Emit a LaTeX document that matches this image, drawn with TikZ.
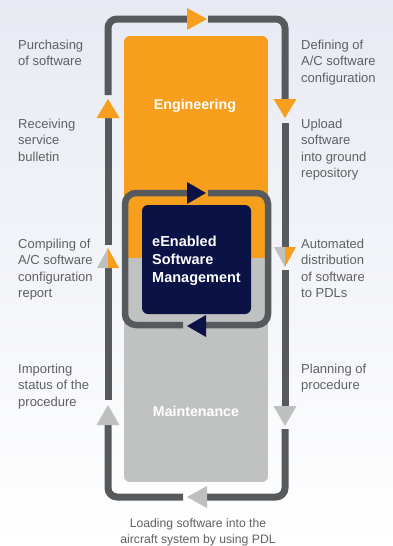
\documentclass[tikz,border=0pt]{standalone}
\usepackage{fontspec}
\setmainfont{Liberation Sans}
\definecolor{orng}{RGB}{247,158,29}
\definecolor{lgray}{RGB}{192,193,193}
\definecolor{agray}{RGB}{190,191,191}
\definecolor{dgray}{RGB}{86,90,92}
\definecolor{navy}{RGB}{10,18,70}
\definecolor{txt}{RGB}{95,96,98}
\definecolor{bgtop}{RGB}{232,234,243}
\begin{document}
\begin{tikzpicture}[x=1pt,y=-1pt,
  outerloop/.style={draw=dgray,line width=7pt,rounded corners=9pt},
  innerloop/.style={draw=dgray,line width=6.5pt,rounded corners=11pt},
  lbl/.style={anchor=base west,align=left,inner sep=0pt,text=txt,font=\fontsize{13}{16.5}\selectfont},
  title/.style={anchor=base,inner sep=0pt,text=white,font=\fontsize{14.2}{18}\selectfont\bfseries}]
\useasboundingbox (0,0) rectangle (393,546);
\shade[top color=bgtop,bottom color=white] (0,0) rectangle (393,546);

% outer loop
\draw[outerloop] (208,19) -- (285,19) -- (285,99);
\draw[outerloop] (285,123) -- (285,247);
\draw[outerloop] (285,270) -- (285,406);
\draw[outerloop] (285,429) -- (285,497) -- (207,497);
\draw[outerloop] (183,497) -- (108,497) -- (108,425);
\draw[outerloop] (108,400) -- (108,268);
\draw[outerloop] (108,245) -- (108,118);
\draw[outerloop] (108,95) -- (108,19) -- (187,19);

% outer arrowheads
\fill[orng] (187,8) -- (207,19) -- (187,30) -- cycle;
\fill[orng] (273.5,99) -- (296.5,99) -- (285,118) -- cycle;
\fill[orng] (96.5,118) -- (119.5,118) -- (108,99) -- cycle;
\fill[agray] (97,268) -- (108,268) -- (108,248) -- cycle;
\fill[orng] (108,268) -- (119,268) -- (108,248) -- cycle;
\fill[agray] (274,247) -- (285,247) -- (285,267) -- cycle;
\fill[orng] (285,247) -- (296,247) -- (285,267) -- cycle;
\fill[agray] (96.5,425) -- (119.5,425) -- (108,405) -- cycle;
\fill[agray] (273.5,406) -- (296.5,406) -- (285,426) -- cycle;
\fill[agray] (207,486) -- (187,497) -- (207,508) -- cycle;

% central box
\begin{scope}
\clip[rounded corners=6pt] (124,36) rectangle (268,482);
\fill[orng] (124,36) rectangle (268,258);
\fill[lgray] (124,258) rectangle (268,482);
\end{scope}
\node[title] (eng) at (195,109) {Engineering};
\node[title] (mnt) at (196,416) {Maintenance};

% inner loop
\draw[innerloop] (208,193) -- (268,193) -- (268,325) -- (206,325);
\draw[innerloop] (183,325) -- (125,325) -- (125,193) -- (187,193);
\fill[navy] (187,182) -- (206,193) -- (187,204) -- cycle;
\fill[navy] (206,315) -- (187,326) -- (206,337) -- cycle;

% navy box
\node[fill=navy,rounded corners=6pt,minimum width=109pt,minimum height=109pt,inner sep=0pt] (esm) at (196.5,259.5) {};
\node[anchor=base west,align=left,inner sep=0pt,text=white,font=\fontsize{14.5}{18.3}\selectfont\bfseries] (esmt) at (152,282.6) {eEnabled\\Software\\Management};

% labels left (anchored at last line baseline)
\node[lbl] (l1) at (18,65.5) {Purchasing\\of software};
\node[lbl] (l2) at (18,161) {Receiving\\service\\bulletin};
\node[lbl] (l3) at (18,297.5) {Compiling of\\A/C software\\configuration\\report};
\node[lbl] (l4) at (18,406) {Importing\\status of the\\procedure};
% labels right
\node[lbl] (r1) at (301,82) {Defining of\\A/C software\\configuration};
\node[lbl] (r2) at (301,177.5) {Upload\\software\\into ground\\repository};
\node[lbl] (r3) at (301,297.5) {Automated\\distribution\\of software\\to PDLs};
\node[lbl] (r4) at (301,389.5) {Planning of\\procedure};
% bottom
\node[lbl,anchor=base,align=center,font=\fontsize{12.2}{15.5}\selectfont] (b1) at (198,543.3) {Loading software into the\\aircraft system by using PDL};
\end{tikzpicture}
\end{document}
